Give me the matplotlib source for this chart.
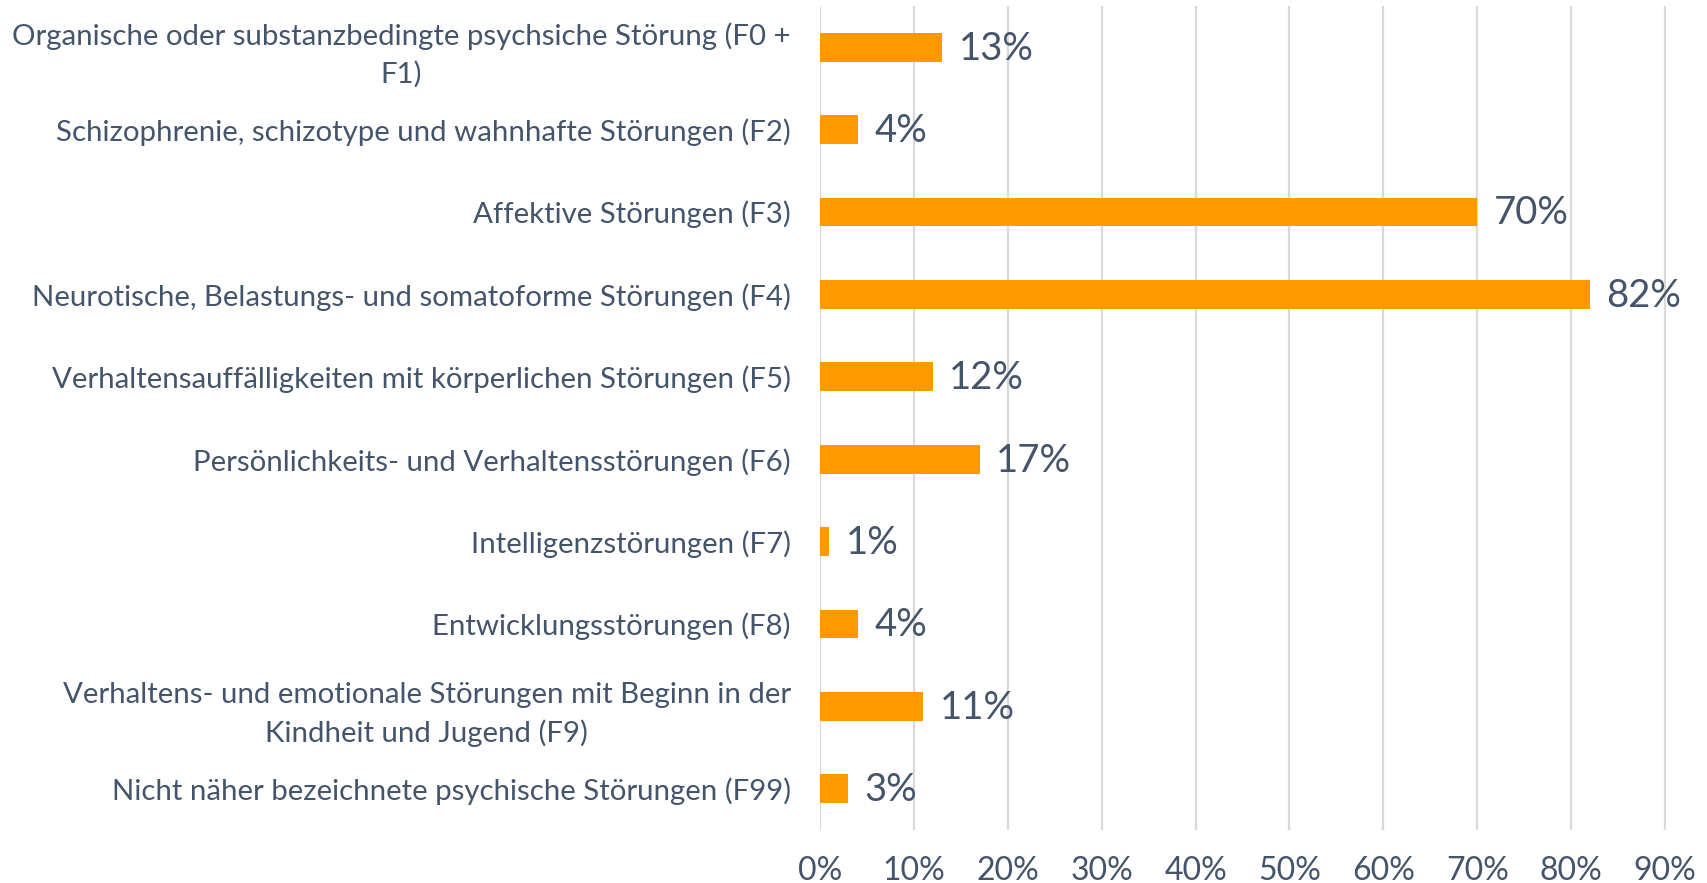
import matplotlib.pyplot as plt
from matplotlib.ticker import FuncFormatter

plt.rcParams['font.family'] = ['Lato', 'DejaVu Sans']

categories = [
    'Organische oder substanzbedingte psychsiche Störung (F0 +\nF1)',
    'Schizophrenie, schizotype und wahnhafte Störungen (F2)',
    'Affektive Störungen (F3)',
    'Neurotische, Belastungs- und somatoforme Störungen (F4)',
    'Verhaltensauffälligkeiten mit körperlichen Störungen (F5)',
    'Persönlichkeits- und Verhaltensstörungen (F6)',
    'Intelligenzstörungen (F7)',
    'Entwicklungsstörungen (F8)',
    'Verhaltens- und emotionale Störungen mit Beginn in der\nKindheit und Jugend (F9)',
    'Nicht näher bezeichnete psychische Störungen (F99)',
]
values = [13, 4, 70, 82, 12, 17, 1, 4, 11, 3]
x_ticks = [0, 10, 20, 30, 40, 50, 60, 70, 80, 90]

TEXT = '#44546A'
BAR = '#FF9900'
GRID = '#D9D9D9'

W, H = 1708, 883
fig = plt.figure(figsize=(W / 100, H / 100), dpi=100)
ax = fig.add_axes([820 / W, 53 / H, (1666 - 820) / W, (883 - 6 - 53) / H])

ypos = list(range(len(categories)))
ax.barh(ypos, values, height=0.35, color=BAR, zorder=3)

for y, v in zip(ypos, values):
    ax.annotate(f'{v}%', xy=(v, y), xytext=(12, -1), textcoords='offset points',
                va='center', ha='left', fontsize=27.5, color=TEXT)

ax.set_xlim(0, 90.1)
ax.set_ylim(len(categories) - 0.5, -0.5)
ax.set_xticks(x_ticks)
ax.xaxis.set_major_formatter(FuncFormatter(lambda x, _: f'{x:.0f}%'))
ax.set_yticks(ypos)
ax.set_yticklabels(categories, multialignment='center', linespacing=1.5)

ax.xaxis.grid(True, color=GRID, lw=1.6, zorder=0)
ax.set_axisbelow(True)
for s in ax.spines.values():
    s.set_visible(False)
ax.tick_params(axis='both', length=0, colors=TEXT)
ax.tick_params(axis='x', labelsize=23, pad=19)
ax.tick_params(axis='y', labelsize=21.2, pad=21)

fig.savefig('out.png', dpi=100)
